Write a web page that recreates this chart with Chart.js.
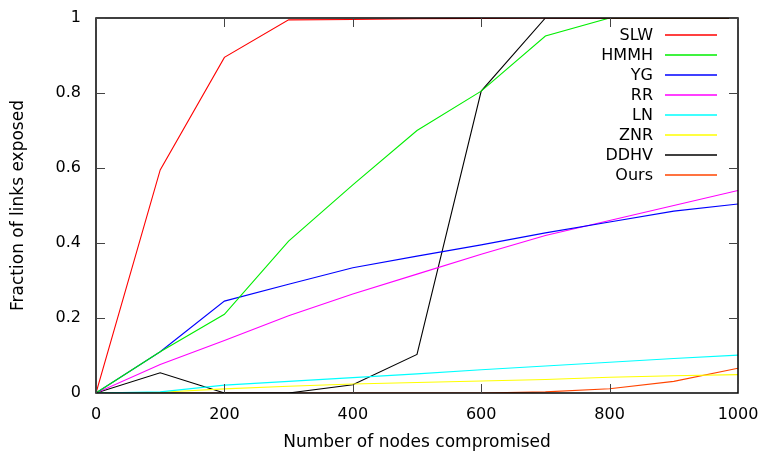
<!DOCTYPE html>
<html>
<head>
<meta charset="utf-8">
<script src="https://cdn.jsdelivr.net/npm/chart.js@4"></script>
<style>
  html, body { margin: 0; padding: 0; background: #fff; }
  #wrap { width: 764px; height: 453px; }
</style>
</head>
<body>
<div id="wrap"><canvas id="c" width="764" height="453"></canvas></div>
<script>
// nodes compromised
var nodes = [0, 100, 200, 300, 400, 500, 600, 700, 800, 900, 1000];

// fraction of links exposed, one array per scheme
var slw  = [0, 0.595, 0.895, 0.995, 0.996, 0.998, 0.999, 1, 1, 1, 1];
var hmmh = [0, 0.11, 0.21, 0.405, 0.555, 0.70, 0.805, 0.952, 1, 1, 1];
var yg   = [0, 0.11, 0.245, 0.29, 0.334, 0.365, 0.395, 0.427, 0.456, 0.485, 0.504];
var rr   = [0, 0.076, 0.14, 0.206, 0.264, 0.317, 0.37, 0.42, 0.46, 0.50, 0.54];
var ln   = [0, 0.003, 0.021, 0.031, 0.041, 0.051, 0.062, 0.072, 0.082, 0.092, 0.101];
var znr  = [0, 0.002, 0.011, 0.018, 0.024, 0.028, 0.032, 0.036, 0.042, 0.046, 0.049];
var ddhv = [0, 0.054, 0, 0, 0.022, 0.103, 0.805, 1, 1, 1, 1];
var ours = [0, 0, 0, 0, 0, 0, 0, 0.003, 0.0115, 0.031, 0.066];

var labels = ['SLW', 'HMMH', 'YG', 'RR', 'LN', 'ZNR', 'DDHV', 'Ours'];
var colors = ['#ff0000', '#00ee00', '#0000ff', '#ff00ff', '#00ffff', '#ffff00', '#000000', '#ff4500'];

var xTicks = [0, 200, 400, 600, 800, 1000];
var yTicks = [0, 0.2, 0.4, 0.6, 0.8, 1];

var FONT = '"DejaVu Sans", sans-serif';

function series(i, ys) {
    return {
        label: labels[i],
        data: ys.map(function(y, j) { return {x: nodes[j], y: y}; }),
        borderColor: colors[i],
        backgroundColor: colors[i],
        borderWidth: 1.1,
        pointRadius: 0,
        tension: 0,
        fill: false
    };
}

// gnuplot-style frame, inward ticks on all sides, key with text left of the sample line
var gnuplotFrame = {
    id: 'gnuplotFrame',
    afterDatasetsDraw: function(chart) {
        var ctx = chart.ctx;
        var a = chart.chartArea;
        var xs = chart.scales.x, ys = chart.scales.y;
        ctx.save();
        ctx.strokeStyle = '#000';
        ctx.lineWidth = 1.5;
        ctx.strokeRect(a.left, a.top, a.right - a.left, a.bottom - a.top);

        ctx.strokeStyle = '#444';
        ctx.lineWidth = 1;
        ctx.beginPath();
        xTicks.forEach(function(v) {
            var px = Math.round(xs.getPixelForValue(v)) + 0.5;
            ctx.moveTo(px, a.bottom); ctx.lineTo(px, a.bottom - 9);
            ctx.moveTo(px, a.top); ctx.lineTo(px, a.top + 9);
        });
        yTicks.forEach(function(v) {
            var py = Math.round(ys.getPixelForValue(v)) + 0.5;
            ctx.moveTo(a.left, py); ctx.lineTo(a.left + 9, py);
            ctx.moveTo(a.right, py); ctx.lineTo(a.right - 9, py);
        });
        ctx.stroke();

        // key
        ctx.font = '16px ' + FONT;
        ctx.textAlign = 'right';
        ctx.textBaseline = 'middle';
        labels.forEach(function(name, i) {
            var y = 35 + i * 20;
            ctx.fillStyle = '#000';
            ctx.fillText(name, 653, y + 1);
            ctx.strokeStyle = colors[i];
            ctx.lineWidth = 1.3;
            ctx.beginPath();
            ctx.moveTo(665, y);
            ctx.lineTo(717, y);
            ctx.stroke();
        });
        ctx.restore();
    }
};

var ctx = document.getElementById('c').getContext('2d');
new Chart(ctx, {
    type: 'line',
    data: {
        datasets: [
            series(0, slw),
            series(1, hmmh),
            series(2, yg),
            series(3, rr),
            series(4, ln),
            series(5, znr),
            series(6, ddhv),
            series(7, ours)
        ]
    },
    options: {
        responsive: false,
        animation: false,
        events: [],
        layout: { padding: { top: 18, right: 26, left: 0, bottom: 0 } },
        plugins: {
            legend: { display: false },
            tooltip: { enabled: false }
        },
        scales: {
            x: {
                type: 'linear',
                min: 0, max: 1000,
                afterBuildTicks: function(s) { s.ticks = xTicks.map(function(v) { return {value: v}; }); },
                afterFit: function(s) { s.height = 60; s.paddingLeft = 0; s.paddingRight = 0; },
                grid: { display: false, drawTicks: false },
                border: { display: false },
                ticks: {
                    color: '#000', font: { family: FONT, size: 16 }, padding: 12, maxRotation: 0,
                    callback: function(v) { return String(v); }
                },
                title: {
                    display: true, text: 'Number of nodes compromised',
                    color: '#000', font: { family: FONT, size: 17 }, padding: { top: 0, bottom: 0 }
                }
            },
            y: {
                min: 0, max: 1,
                afterBuildTicks: function(s) { s.ticks = yTicks.map(function(v) { return {value: v}; }); },
                afterFit: function(s) { s.width = 96; s.paddingTop = 0; s.paddingBottom = 0; },
                grid: { display: false, drawTicks: false },
                border: { display: false },
                ticks: {
                    color: '#000', font: { family: FONT, size: 16 }, padding: 15,
                    callback: function(v) { return String(v); }
                },
                title: {
                    display: true, text: 'Fraction of links exposed',
                    color: '#000', font: { family: FONT, size: 17 }, padding: { top: 8, bottom: 0 }
                }
            }
        }
    },
    plugins: [gnuplotFrame]
});
</script>
</body>
</html>
